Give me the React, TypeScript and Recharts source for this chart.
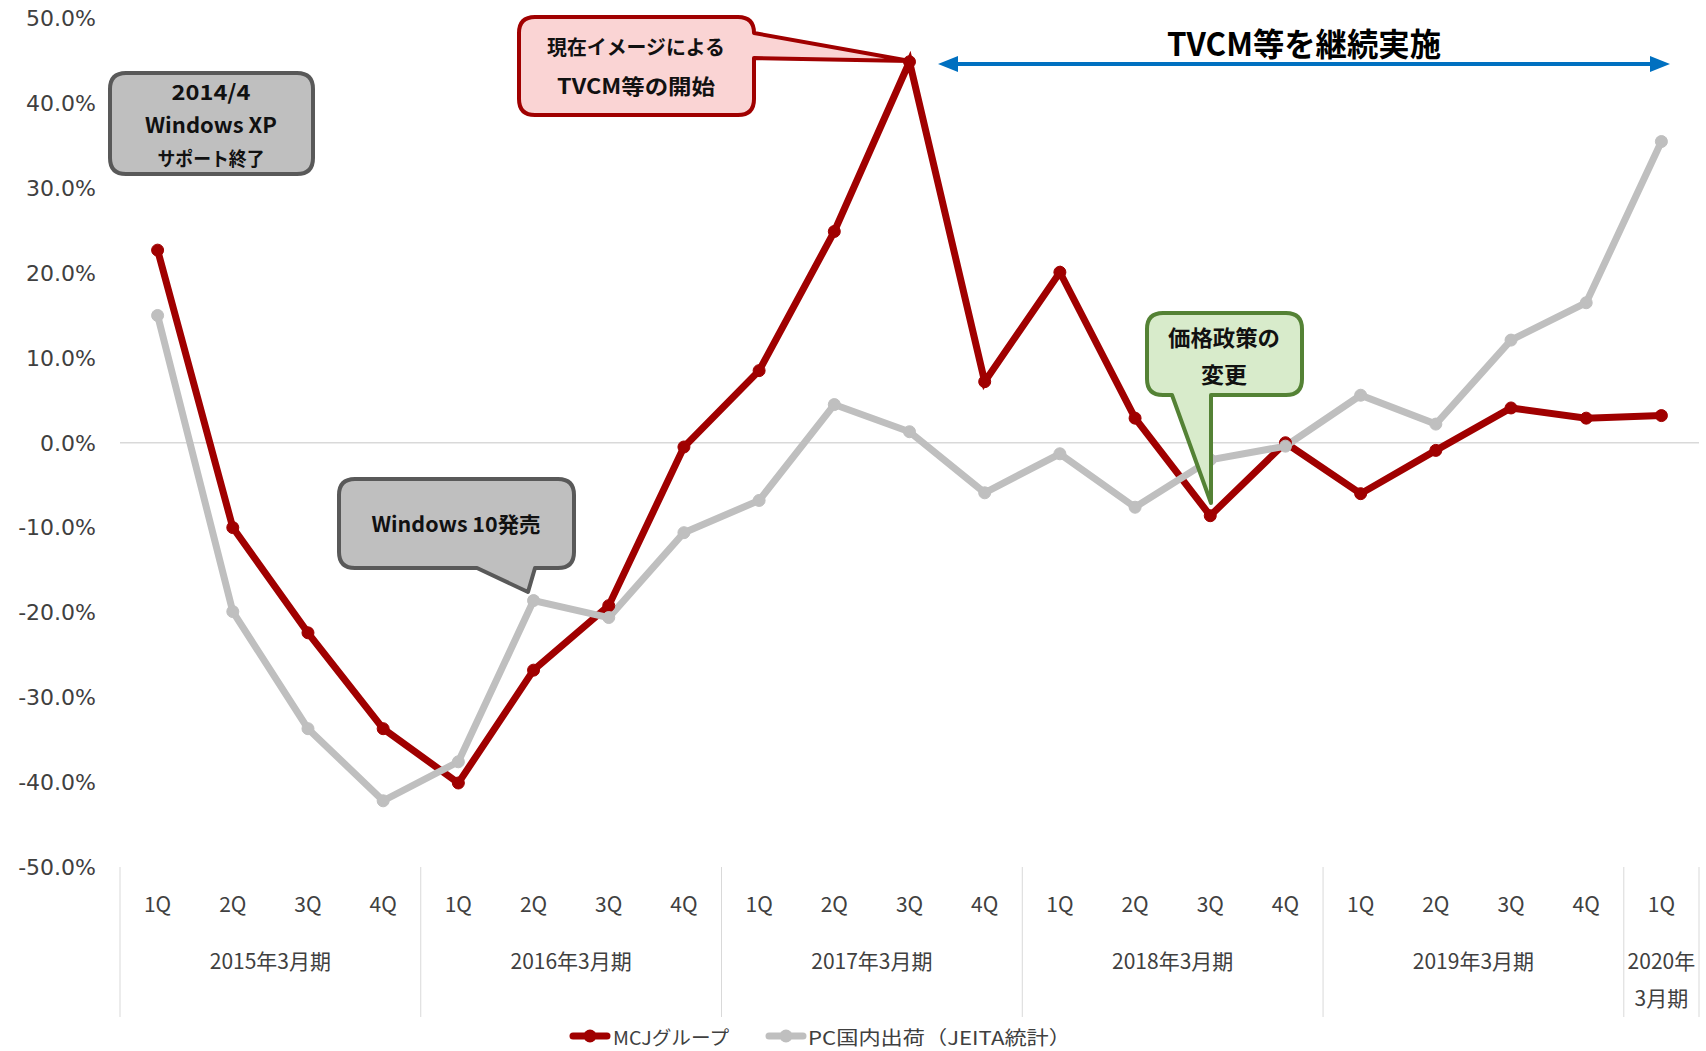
import React from 'react';
import { LineChart, Line, XAxis, YAxis, ReferenceLine } from 'recharts';

const quarters = ['1Q', '2Q', '3Q', '4Q', '1Q', '2Q', '3Q', '4Q', '1Q', '2Q', '3Q', '4Q', '1Q', '2Q', '3Q', '4Q', '1Q', '2Q', '3Q', '4Q', '1Q'];
const fiscalYears = ['2015年3月期', '2016年3月期', '2017年3月期', '2018年3月期', '2019年3月期'];
const lastYearLines = ['2020年', '3月期'];
const mcjGroup = [22.7, -10.0, -22.4, -33.7, -40.1, -26.8, -19.2, -0.5, 8.5, 24.9, 44.9, 7.2, 20.1, 2.9, -8.6, 0.0, -6.0, -0.9, 4.1, 2.9, 3.2];
const pcShipments = [15.0, -19.9, -33.7, -42.2, -37.6, -18.6, -20.6, -10.6, -6.8, 4.5, 1.3, -5.9, -1.3, -7.6, -2.0, -0.4, 5.6, 2.2, 12.1, 16.5, 35.5];
const yTicks = [-50, -40, -30, -20, -10, 0, 10, 20, 30, 40, 50];
const seriesNames = ['MCJグループ', 'PC国内出荷（JEITA統計）'];

const RED = '#A00000';
const GRAY = '#BFBFBF';
const JP = '"Noto Sans CJK JP", "Noto Sans", sans-serif';

const CHART_W = 1706;
const PLOT_LEFT = 120;
const PLOT_RIGHT_MARGIN = 7;
const HALF_BAND = (CHART_W - PLOT_LEFT - PLOT_RIGHT_MARGIN) / quarters.length / 2;

const data = quarters.map((q, i) => ({ id: 'p' + i, quarter: q, mcj: mcjGroup[i], pc: pcShipments[i] }));

const XTick = (props: any) => {
  const { x, y, payload } = props;
  const i: number = payload.index ?? props.index;
  const half = HALF_BAND;
  const label = quarters[i];
  const items: any[] = [];
  items.push(
    <text key="q" x={x} y={y + 36} textAnchor="middle" dominantBaseline="central" fontSize={21} fill="#404040" fontFamily={JP}>{label}</text>
  );
  if (i % 4 === 0) {
    items.push(<line key="s" x1={x - half} x2={x - half} y1={y} y2={y + 150} stroke="#D9D9D9" strokeWidth={1} />);
  }
  if (i % 4 === 1 && Math.floor(i / 4) < fiscalYears.length) {
    items.push(
      <text key="fy" x={x + half} y={y + 93} textAnchor="middle" dominantBaseline="central" fontSize={21} fill="#404040" fontFamily={JP}>{fiscalYears[Math.floor(i / 4)]}</text>
    );
  }
  if (i === quarters.length - 1) {
    items.push(<line key="e" x1={x + half} x2={x + half} y1={y} y2={y + 150} stroke="#D9D9D9" strokeWidth={1} />);
    items.push(
      <text key="l1" x={x} y={y + 93} textAnchor="middle" dominantBaseline="central" fontSize={21} fill="#404040" fontFamily={JP}>{lastYearLines[0]}</text>
    );
    items.push(
      <text key="l2" x={x} y={y + 130} textAnchor="middle" dominantBaseline="central" fontSize={21} fill="#404040" fontFamily={JP}>{lastYearLines[1]}</text>
    );
  }
  return <g>{items}</g>;
};

function roundBoxPath(x1: number, y1: number, x2: number, y2: number, r: number, tail?: { side: 'right' | 'bottom'; a: number; b: number; tx: number; ty: number }) {
  let d = `M${x1 + r},${y1} L${x2 - r},${y1} Q${x2},${y1} ${x2},${y1 + r} `;
  if (tail && tail.side === 'right') {
    d += `L${x2},${tail.a} L${tail.tx},${tail.ty} L${x2},${tail.b} `;
  }
  d += `L${x2},${y2 - r} Q${x2},${y2} ${x2 - r},${y2} `;
  if (tail && tail.side === 'bottom') {
    d += `L${tail.b},${y2} L${tail.tx},${tail.ty} L${tail.a},${y2} `;
  }
  d += `L${x1 + r},${y2} Q${x1},${y2} ${x1},${y2 - r} L${x1},${y1 + r} Q${x1},${y1} ${x1 + r},${y1} Z`;
  return d;
}

const Annotations = () => {
  const tf = { fontFamily: JP, fontWeight: 700, fill: '#111', textAnchor: 'middle' as const, dominantBaseline: 'central' as const, lengthAdjust: 'spacingAndGlyphs' };
  const LY = 1036;
  return (
    <svg width={1706} height={1051} style={{ position: 'absolute', left: 0, top: 0, pointerEvents: 'none' }}>
      {/* XP box */}
      <path d={roundBoxPath(110, 73, 313, 174, 16)} fill="#BFBFBF" stroke="#595959" strokeWidth={4} />
      <text x={211} y={91} fontSize={21} textLength={79} {...tf}>2014/4</text>
      <text x={211} y={124} fontSize={21} textLength={132} {...tf}>Windows XP</text>
      <text x={211} y={157} fontSize={19} textLength={107} {...tf}>サポート終了</text>

      {/* TVCM start */}
      <path d={roundBoxPath(519, 17, 754, 115, 16, { side: 'right', a: 33, b: 58, tx: 910, ty: 61 })} fill="#FAD4D4" stroke={RED} strokeWidth={4} strokeLinejoin="round" />
      <text x={636} y={46} fontSize={20} textLength={178} {...tf}>現在イメージによる</text>
      <text x={636} y={85} fontSize={21} textLength={158} {...tf}>TVCM等の開始</text>

      {/* Blue arrow */}
      <line x1={955} x2={1653} y1={64} y2={64} stroke="#0070C0" strokeWidth={4} />
      <polygon points="938,64 958,56 958,72" fill="#0070C0" />
      <polygon points="1670,64 1650,56 1650,72" fill="#0070C0" />
      <text x={1304} y={42} fontSize={32} textLength={274} {...tf} fill="#000">TVCM等を継続実施</text>

      {/* Windows 10 */}
      <path d={roundBoxPath(339, 479, 574, 568, 16, { side: 'bottom', a: 477, b: 535, tx: 528, ty: 592 })} fill="#BFBFBF" stroke="#595959" strokeWidth={4} strokeLinejoin="round" />
      <text x={456} y={523} fontSize={21} textLength={169} {...tf}>Windows 10発売</text>

      {/* Price policy */}
      <path d={roundBoxPath(1147, 313, 1302, 395, 16, { side: 'bottom', a: 1172, b: 1211, tx: 1211, ty: 503 })} fill="#D8EBCB" stroke="#548235" strokeWidth={4} strokeLinejoin="round" />
      <text x={1224} y={336} fontSize={22} textLength={112} {...tf}>価格政策の</text>
      <text x={1224} y={373} fontSize={22} textLength={46} {...tf}>変更</text>

      {/* Legend */}
      <line x1={573} x2={607} y1={LY} y2={LY} stroke={RED} strokeWidth={7} strokeLinecap="round" />
      <circle cx={590} cy={LY} r={6.5} fill={RED} />
      <text x={613} y={LY} fontSize={19} fontFamily={JP} fill="#404040" dominantBaseline="central" textLength={116} lengthAdjust="spacingAndGlyphs">{seriesNames[0]}</text>
      <line x1={769} x2={803} y1={LY} y2={LY} stroke={GRAY} strokeWidth={7} strokeLinecap="round" />
      <circle cx={786} cy={LY} r={6.5} fill={GRAY} />
      <text x={808} y={LY} fontSize={19} fontFamily={JP} fill="#404040" dominantBaseline="central" textLength={263} lengthAdjust="spacingAndGlyphs">{seriesNames[1]}</text>
    </svg>
  );
};

export default function App() {
  return (
    <div style={{ position: 'absolute', left: 0, top: 0, width: 1706, height: 1051, background: '#fff', overflow: 'hidden' }}>
      <LineChart width={CHART_W} height={1051} data={data} margin={{ top: 18.5, right: PLOT_RIGHT_MARGIN, left: 0, bottom: 0 }}>
        <XAxis dataKey="id" axisLine={false} tickLine={false} tickSize={0} tickMargin={0} height={184} interval={0} padding={{ left: HALF_BAND, right: HALF_BAND }} tick={<XTick />} />
        <YAxis
          domain={[-50, 50]}
          ticks={yTicks}
          width={PLOT_LEFT}
          axisLine={false}
          tickLine={false}
          tickMargin={18}
          tickFormatter={(v: number) => v.toFixed(1) + '%'}
          tick={{ fontSize: 22, fill: '#404040', fontFamily: '"DejaVu Sans", Verdana, sans-serif' }}
        />
        <ReferenceLine y={0} stroke="#D9D9D9" strokeWidth={1.5} />
        <Line dataKey="mcj" name={seriesNames[0]} stroke={RED} strokeWidth={7} dot={{ r: 6, fill: RED, stroke: RED, strokeWidth: 1 }} isAnimationActive={false} />
        <Line dataKey="pc" name={seriesNames[1]} stroke={GRAY} strokeWidth={7} dot={{ r: 6, fill: GRAY, stroke: GRAY, strokeWidth: 1 }} isAnimationActive={false} />
      </LineChart>
      <Annotations />
    </div>
  );
}
